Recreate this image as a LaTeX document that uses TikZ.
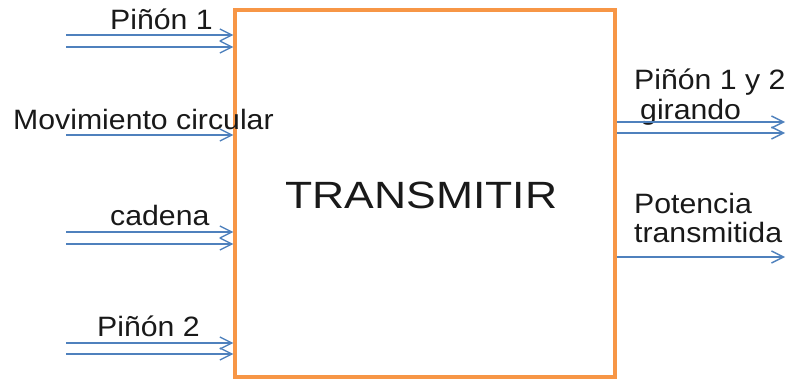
\documentclass[tikz,border=0pt]{standalone}
\usepackage{fontspec}
\setmainfont{Liberation Sans}
\usetikzlibrary{arrows.meta}
\definecolor{boxorange}{RGB}{247,150,70}
\definecolor{arrowblue}{RGB}{79,129,189}
\newcommand{\sxlabel}[1]{\scalebox{1.08}[1]{#1}}
\begin{document}
\begin{tikzpicture}[x=1pt,y=-1pt,
  lbl/.style={anchor=base west,inner sep=0pt,font=\fontsize{28}{30}\selectfont,text=black!90},
  flow/.style={draw=arrowblue,line width=1.6pt,-{Straight Barb[length=12pt,width=12pt,line width=1.4pt]}},
  funcbox/.style={draw=boxorange,line width=3.2pt,minimum width=380pt,minimum height=367pt,inner sep=0pt}]
\useasboundingbox (0,0) rectangle (787,379);
\node[funcbox] (box) at (425,193.5) {};
\node[anchor=base,inner sep=0pt,font=\fontsize{38}{40}\selectfont,text=black!90] (title) at (421.5,209) {\scalebox{1.17}[1]{TRANSMITIR}};
% left labels
\node[lbl] (l1) at (110,30) {\sxlabel{Piñón 1}};
\node[lbl] (l2) at (13,130) {\sxlabel{Movimiento circular}};
\node[lbl] (l3) at (110,226) {\sxlabel{cadena}};
\node[lbl] (l4) at (97,336.5) {\sxlabel{Piñón 2}};
% right labels
\node[lbl] (r1a) at (634,90) {\sxlabel{Piñón 1 y 2}};
\node[lbl] (r1b) at (640,120) {\sxlabel{girando}};
\node[lbl] (r2a) at (634,214) {\sxlabel{Potencia}};
\node[lbl] (r2b) at (634,243) {\sxlabel{transmitida}};
% free ends
\coordinate (a1) at (66,35);
\coordinate (a2) at (66,47);
\coordinate (a3) at (66,135);
\coordinate (a4) at (66,232);
\coordinate (a5) at (66,244);
\coordinate (a6) at (66,343);
\coordinate (a7) at (66,354);
\coordinate (b1) at (785,122);
\coordinate (b2) at (785,133);
\coordinate (b3) at (785,257);
% inputs
\foreach \c in {a1,a2,a3,a4,a5,a6,a7}
  \draw[flow] (\c) -- (\c -| box.west);
% outputs
\foreach \c in {b1,b2,b3}
  \draw[flow] (\c -| box.east) -- (\c);
\end{tikzpicture}
\end{document}
